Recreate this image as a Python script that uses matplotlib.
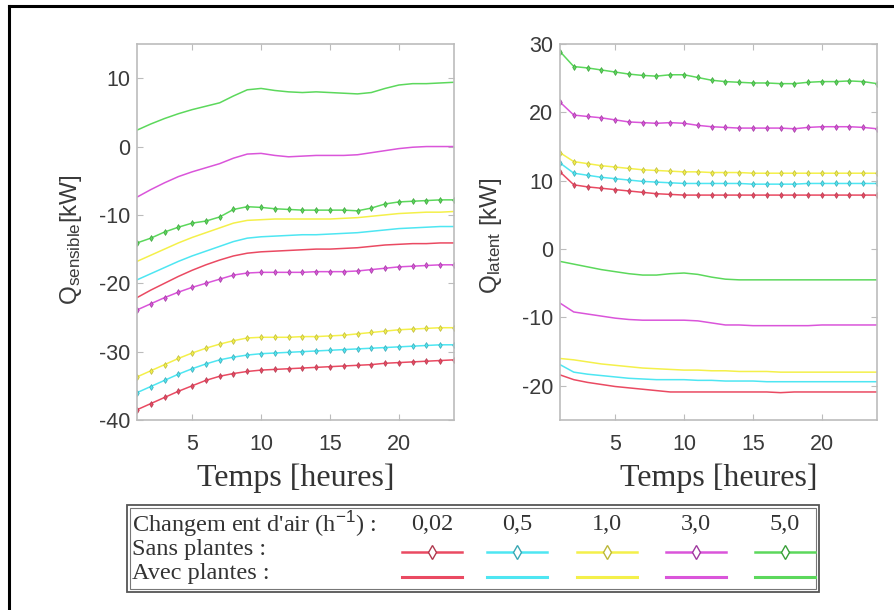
import matplotlib
matplotlib.use("Agg")
import matplotlib.pyplot as plt
from matplotlib.lines import Line2D
from matplotlib.patches import Rectangle

plt.rcParams['mathtext.fontset'] = 'custom'
plt.rcParams['mathtext.rm'] = 'Liberation Sans'
plt.rcParams['mathtext.it'] = 'Liberation Sans'
plt.rcParams['axes.unicode_minus'] = False

hours = list(range(1, 25))
rates = ["0,02", "0,5", "1,0", "3,0", "5,0"]
colors = ["#ea4a62", "#4ee6f2", "#f4f04a", "#da55da", "#5cd85c"]
edge_colors = ["#b03a50", "#3aa8b4", "#bcb83a", "#a03aa0", "#3aa03a"]

# Left: Q_sensible [kW]
sens_sans = {
    "0,02": [-38.5, -37.6, -36.7, -35.8, -35.0, -34.2, -33.6, -33.2, -32.9, -32.7, -32.6, -32.5,
             -32.4, -32.3, -32.2, -32.1, -32.0, -31.9, -31.7, -31.6, -31.5, -31.4, -31.3, -31.2],
    "0,5": [-36.0, -35.1, -34.2, -33.3, -32.5, -31.8, -31.2, -30.8, -30.5, -30.3, -30.2, -30.1,
            -30.0, -29.9, -29.8, -29.7, -29.6, -29.5, -29.4, -29.3, -29.2, -29.1, -29.0, -29.0],
    "1,0": [-33.7, -32.8, -31.9, -31.0, -30.2, -29.5, -28.9, -28.4, -28.0, -27.9, -27.9, -27.9,
            -27.8, -27.8, -27.7, -27.6, -27.4, -27.2, -27.0, -26.8, -26.7, -26.6, -26.5, -26.5],
    "3,0": [-23.9, -23.0, -22.1, -21.3, -20.6, -20.0, -19.4, -18.8, -18.5, -18.4, -18.4, -18.4,
            -18.4, -18.3, -18.3, -18.3, -18.2, -18.0, -17.8, -17.6, -17.5, -17.4, -17.3, -17.3],
    "5,0": [-14.1, -13.4, -12.5, -11.8, -11.2, -10.9, -10.3, -9.2, -8.8, -8.9, -9.1, -9.2,
            -9.3, -9.3, -9.3, -9.3, -9.4, -9.0, -8.4, -8.1, -8.0, -7.9, -7.8, -7.8],
}
sens_avec = {
    "0,02": [-22.1, -21.0, -20.0, -19.0, -18.1, -17.3, -16.6, -16.0, -15.6, -15.4, -15.3, -15.2,
             -15.1, -15.0, -15.0, -14.9, -14.8, -14.6, -14.4, -14.3, -14.2, -14.2, -14.1, -14.1],
    "0,5": [-19.5, -18.6, -17.7, -16.8, -16.0, -15.3, -14.6, -13.9, -13.4, -13.2, -13.1, -13.0,
            -12.9, -12.9, -12.8, -12.7, -12.6, -12.4, -12.2, -12.0, -11.9, -11.8, -11.7, -11.7],
    "1,0": [-16.8, -15.9, -15.0, -14.1, -13.3, -12.6, -11.9, -11.2, -10.8, -10.7, -10.6, -10.6,
            -10.6, -10.6, -10.6, -10.5, -10.4, -10.2, -10.0, -9.8, -9.7, -9.6, -9.6, -9.5],
    "3,0": [-7.4, -6.3, -5.3, -4.4, -3.7, -3.1, -2.5, -1.7, -1.1, -1.0, -1.3, -1.5,
            -1.4, -1.3, -1.3, -1.3, -1.2, -0.9, -0.6, -0.3, -0.1, 0.0, 0.0, 0.0],
    "5,0": [2.4, 3.3, 4.1, 4.8, 5.4, 5.9, 6.4, 7.4, 8.3, 8.5, 8.2, 8.0,
            7.9, 8.0, 7.9, 7.8, 7.7, 7.9, 8.5, 9.0, 9.2, 9.2, 9.3, 9.4],
}
# Right: Q_latent [kW]
lat_sans = {
    "0,02": [11.3, 9.4, 9.1, 8.9, 8.7, 8.5, 8.3, 8.1, 8.0, 7.9, 7.9, 7.9,
             7.9, 7.9, 7.9, 7.9, 7.9, 7.9, 7.9, 7.9, 7.9, 7.9, 7.9, 7.9],
    "0,5": [12.6, 11.1, 10.8, 10.5, 10.3, 10.1, 9.9, 9.8, 9.7, 9.6, 9.6, 9.6,
            9.6, 9.6, 9.5, 9.5, 9.5, 9.5, 9.6, 9.6, 9.6, 9.6, 9.6, 9.6],
    "1,0": [14.1, 12.8, 12.5, 12.2, 12.0, 11.8, 11.6, 11.5, 11.4, 11.3, 11.3, 11.2,
            11.2, 11.2, 11.1, 11.1, 11.1, 11.1, 11.1, 11.1, 11.1, 11.1, 11.1, 11.1],
    "3,0": [21.5, 19.6, 19.4, 19.2, 18.9, 18.6, 18.5, 18.4, 18.5, 18.4, 18.1, 17.9,
            17.8, 17.7, 17.7, 17.7, 17.7, 17.6, 17.8, 17.9, 17.9, 17.9, 17.8, 17.6],
    "5,0": [28.9, 26.7, 26.5, 26.2, 25.9, 25.6, 25.4, 25.3, 25.5, 25.5, 25.1, 24.7,
            24.5, 24.4, 24.3, 24.3, 24.2, 24.2, 24.4, 24.5, 24.5, 24.6, 24.5, 24.2],
}
lat_avec = {
    "0,02": [-18.4, -19.1, -19.5, -19.8, -20.1, -20.3, -20.5, -20.7, -20.9, -20.9, -20.9, -20.9,
             -20.9, -20.9, -20.9, -20.9, -21.0, -20.9, -20.9, -20.9, -20.9, -20.9, -20.9, -20.9],
    "0,5": [-16.9, -18.0, -18.3, -18.5, -18.7, -18.9, -19.0, -19.1, -19.1, -19.1, -19.2, -19.2,
            -19.3, -19.3, -19.3, -19.4, -19.4, -19.4, -19.4, -19.4, -19.4, -19.4, -19.4, -19.4],
    "1,0": [-16.0, -16.2, -16.5, -16.8, -17.0, -17.2, -17.4, -17.5, -17.6, -17.7, -17.7, -17.8,
            -17.8, -17.9, -17.9, -17.9, -18.0, -18.0, -18.0, -18.0, -18.0, -18.0, -18.0, -18.0],
    "3,0": [-7.9, -9.2, -9.5, -9.8, -10.1, -10.3, -10.4, -10.4, -10.4, -10.4, -10.5, -10.8,
            -11.1, -11.1, -11.2, -11.2, -11.2, -11.2, -11.2, -11.1, -11.1, -11.1, -11.1, -11.1],
    "5,0": [-1.8, -2.2, -2.6, -3.0, -3.3, -3.6, -3.8, -3.8, -3.6, -3.5, -3.7, -4.1,
            -4.4, -4.5, -4.5, -4.5, -4.5, -4.5, -4.5, -4.5, -4.5, -4.5, -4.5, -4.5],
}

W, H = 895, 610
fig = plt.figure(figsize=(W / 100, H / 100), dpi=100)


def fx(x):
    return x / W


def fy(y):
    return 1 - y / H


def make_ax(x0, x1, y0, y1):
    ax = fig.add_axes([fx(x0), fy(y1), fx(x1) - fx(x0), fy(y0) - fy(y1)])
    for s in ax.spines.values():
        s.set_color("#bcbcbc")
        s.set_linewidth(1.2)
    ax.tick_params(direction="in", top=True, right=True, length=4, width=0.8,
                   color="#bcbcbc", labelsize=15.5, labelcolor="#3a3a3a")
    ax.tick_params(axis="x", pad=10)
    ax.tick_params(axis="y", pad=5)
    ax.set_xlim(1, 24)
    ax.set_xticks([5, 10, 15, 20])
    return ax


axL = make_ax(137, 454, 44, 420)
axR = make_ax(560, 877, 44, 420)
axL.set_ylim(-40, 15)
axL.set_yticks([-40, -30, -20, -10, 0, 10])
axR.set_ylim(-25, 30)
axR.set_yticks([-20, -10, 0, 10, 20, 30])

for ax, sans, avec in [(axL, sens_sans, sens_avec), (axR, lat_sans, lat_avec)]:
    for r, c, ec in zip(rates, colors, edge_colors):
        ax.plot(hours, avec[r], color=c, lw=1.1)
        ax.plot(hours, sans[r], color=c, lw=1.1, marker="d", ms=3.0,
                mfc=c, mec=ec, mew=0.5)
    for lab in ax.get_xticklabels() + ax.get_yticklabels():
        lab.set_family("Liberation Sans")
    ax.set_xlabel("Temps [heures]", family="Liberation Serif", fontsize=23,
                  color="#333333", labelpad=6)

axL.set_ylabel(r"Q$_{\mathrm{sensible}}$[kW]", family="Liberation Sans", fontsize=17.5,
               color="#3a3a3a")
axL.yaxis.set_label_coords((84 - 137) / (454 - 137), 0.48)
axR.set_ylabel(r"Q$_{\mathrm{latent}}$ [kW]", family="Liberation Sans", fontsize=17.5,
               color="#3a3a3a")
axR.yaxis.set_label_coords((504 - 560) / (877 - 560), 0.49)

# outer frame (top and left edges visible)
fig.add_artist(Line2D([fx(9), fx(9)], [fy(6), 0], transform=fig.transFigure,
                      color="black", lw=2.2))
fig.add_artist(Line2D([fx(9), 1], [fy(6), fy(6)], transform=fig.transFigure,
                      color="black", lw=2.2))

# legend box (double border)
bx0, bx1, by0, by1 = 127, 819, 505, 592
fig.add_artist(Rectangle((fx(bx0), fy(by1)), fx(bx1) - fx(bx0), fy(by0) - fy(by1),
                         transform=fig.transFigure, fill=False, ec="#555555", lw=1.3))
fig.add_artist(Rectangle((fx(bx0 + 3), fy(by1 - 3)), fx(bx1 - 3) - fx(bx0 + 3),
                         fy(by0 + 3) - fy(by1 - 3), transform=fig.transFigure,
                         fill=False, ec="#777777", lw=0.8))

tkw = dict(family="Liberation Serif", fontsize=17.5, color="#333333", va="center",
           transform=fig.transFigure)
fig.text(fx(132), fy(524), "Changem ent d'air (h$^{-1}$) :", ha="left", **tkw)
fig.text(fx(132), fy(550), "Sans plantes :", ha="left", **tkw)
fig.text(fx(132), fy(574), "Avec plantes :", ha="left", **tkw)
centers = [432, 517, 607, 696, 785]
for cx, r, c, ec in zip(centers, rates, colors, edge_colors):
    fig.text(fx(cx), fy(524), r, ha="center", **tkw)
    fig.add_artist(Line2D([fx(cx - 30), fx(cx + 30)], [fy(552), fy(552)],
                          transform=fig.transFigure, color=c, lw=1.8))
    fig.add_artist(Line2D([fx(cx)], [fy(552)], transform=fig.transFigure, color=c,
                          marker="d", ms=7, mfc="white", mec=ec, mew=1.0))
    fig.add_artist(Line2D([fx(cx - 30), fx(cx + 30)], [fy(577), fy(577)],
                          transform=fig.transFigure, color=c, lw=2.2))

fig.savefig("out.png", dpi=100)
